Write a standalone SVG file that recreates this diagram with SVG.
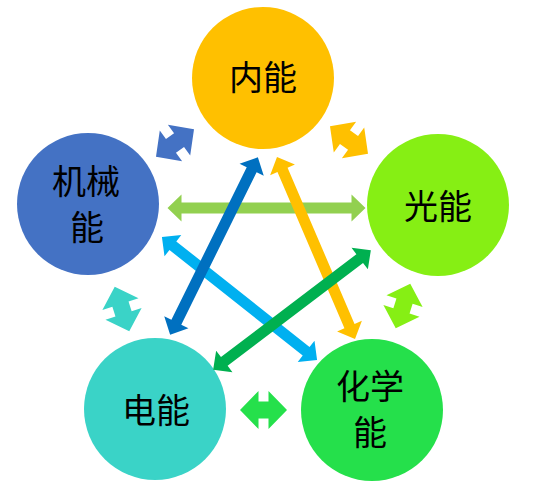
<svg xmlns="http://www.w3.org/2000/svg" xmlns:xlink="http://www.w3.org/1999/xlink" width="536" height="497" viewBox="0 0 536 497">
  <style>
    .lbl { font-family: "Noto Sans CJK SC", "Noto Sans", sans-serif; font-size: 34px; fill: #000; text-anchor: middle; dominant-baseline: central; }
  </style>
  <defs>
    <path id="longArrow" d="M-99,0 L-85,-13.5 L-85,-5.5 L85,-5.5 L85,-13.5 L99,0 L85,13.5 L85,5.5 L-85,5.5 L-85,13.5 Z"/>
    <path id="shortArrow" d="M-23.5,0 L-5,-19 L-5,-8.5 L5,-8.5 L5,-19 L23.5,0 L5,19 L5,8.5 L-5,8.5 L-5,19 Z"/>
  </defs>
  <rect width="536" height="497" fill="#ffffff"/>

  <g id="node-neineng">
    <circle cx="263" cy="78" r="71" fill="#FFC000"/>
    <text class="lbl" x="263" y="75">内能</text>
  </g>
  <g id="node-guangneng">
    <circle cx="438" cy="205" r="71" fill="#86EF14"/>
    <text class="lbl" x="438" y="204">光能</text>
  </g>
  <g id="node-huaxueneng">
    <circle cx="372" cy="410" r="71" fill="#25E04B"/>
    <text class="lbl" x="370" y="384">化学</text>
    <text class="lbl" x="370" y="430">能</text>
  </g>
  <g id="node-dianneng">
    <circle cx="155" cy="409" r="71" fill="#3AD3C7"/>
    <text class="lbl" x="156" y="408">电能</text>
  </g>
  <g id="node-jixieneng">
    <circle cx="88" cy="204" r="71" fill="#4472C4"/>
    <text class="lbl" x="86" y="179">机械</text>
    <text class="lbl" x="87" y="225">能</text>
  </g>

  <g id="connectors">
    <use xlink:href="#longArrow" href="#longArrow" fill="#92D050" transform="translate(266.5,208)"/>
    <use xlink:href="#longArrow" href="#longArrow" fill="#00B0F0" transform="translate(239.5,298.5) rotate(38.4)"/>
    <use xlink:href="#longArrow" href="#longArrow" fill="#0070C0" transform="translate(214,246) rotate(-63.7)"/>
    <use xlink:href="#longArrow" href="#longArrow" fill="#FFC000" transform="translate(316,248) rotate(66.8)"/>
    <use xlink:href="#longArrow" href="#longArrow" fill="#00B050" transform="translate(292,310) rotate(-37.2)"/>

    <use xlink:href="#shortArrow" href="#shortArrow" fill="#4472C4" transform="translate(175,143) rotate(-36)"/>
    <use xlink:href="#shortArrow" href="#shortArrow" fill="#FFC000" transform="translate(349,140) rotate(36)"/>
    <use xlink:href="#shortArrow" href="#shortArrow" fill="#86EF14" transform="translate(403,306) rotate(-72)"/>
    <use xlink:href="#shortArrow" href="#shortArrow" fill="#3AD3C7" transform="translate(122,309) rotate(72)"/>
    <use xlink:href="#shortArrow" href="#shortArrow" fill="#25E04B" transform="translate(263.5,410)"/>
  </g>
</svg>
